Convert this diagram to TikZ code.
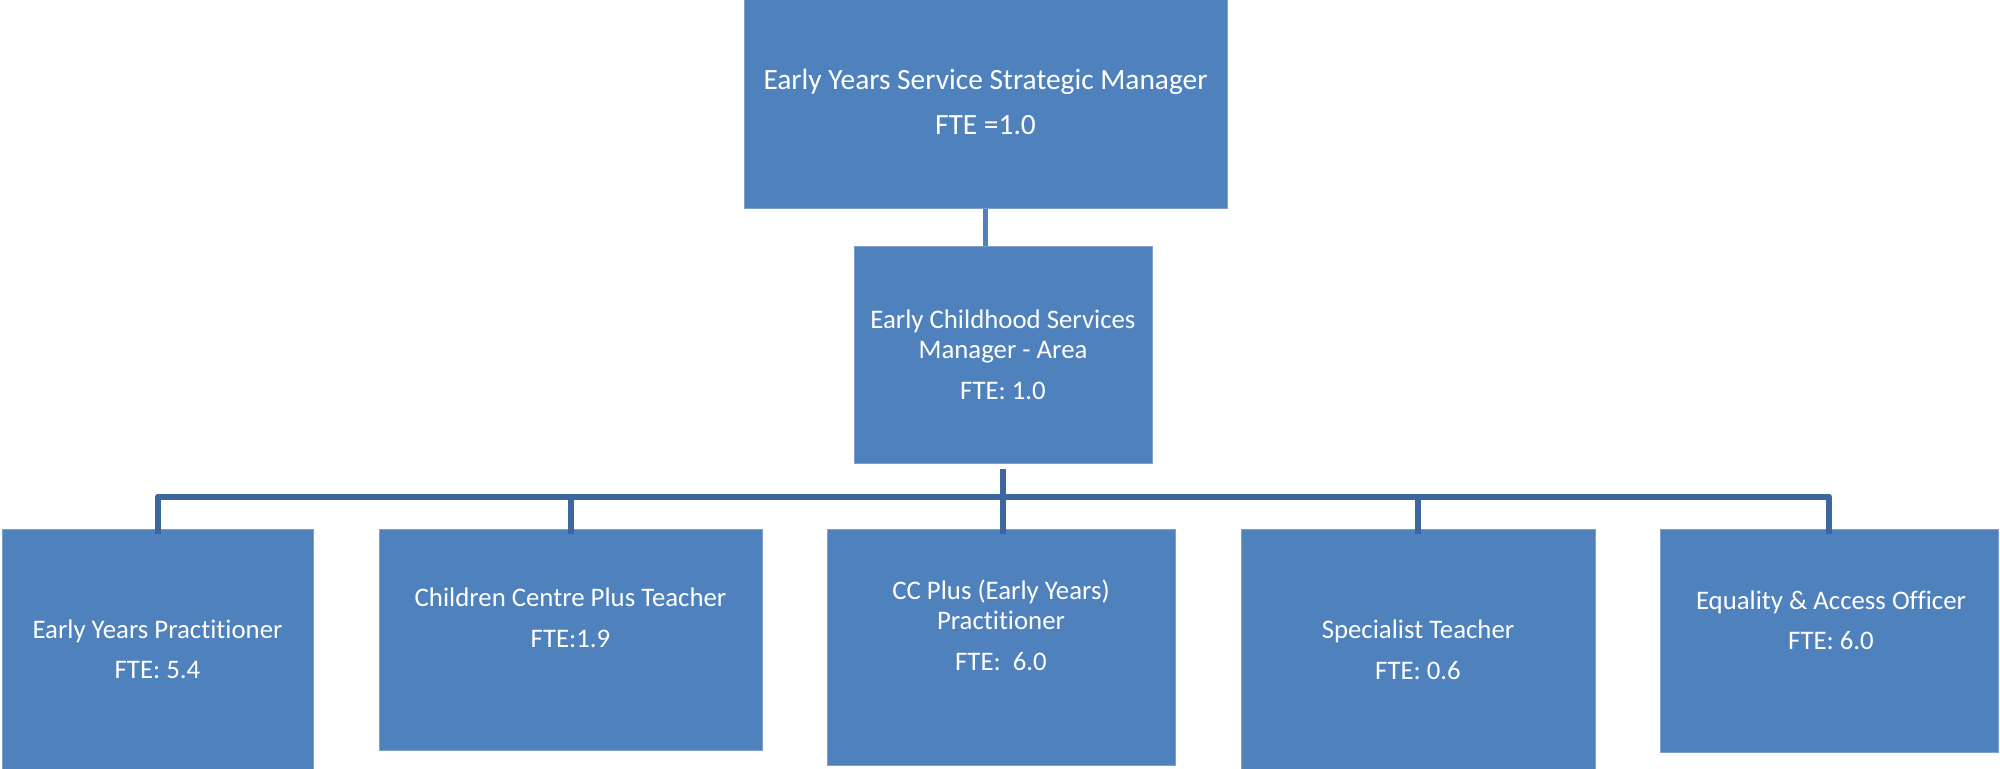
\documentclass[tikz,border=0pt]{standalone}
\usepackage{fontspec}
\setmainfont{Carlito}[Ligatures=NoCommon]
\definecolor{boxfill}{RGB}{79,129,189}
\definecolor{boxedge}{RGB}{125,160,208}
\definecolor{busline}{RGB}{60,103,158}
\definecolor{linkline}{RGB}{79,129,189}
\begin{document}
\begin{tikzpicture}[x=0.5pt,y=-0.5pt,
  orgbox/.style={rectangle, fill=boxfill, draw=boxedge, line width=0.5pt, inner sep=0pt},
  txt/.style={text=white, align=center, inner sep=0pt, anchor=base, font=\fontsize{13.4}{15}\selectfont},
  bus/.style={draw=busline, line width=3pt, line join=round},
  link/.style={draw=linkline, line width=2.25pt}]
\useasboundingbox (0,0) rectangle (2000,769);
% boxes
\node[orgbox, minimum width=241.5pt, minimum height=104.5pt] (top) at (985.5,104.5) {};
\node[orgbox, minimum width=149pt, minimum height=108.5pt] (mid) at (1003,355.5) {};
\node[orgbox, minimum width=155.5pt, minimum height=120pt] (b1) at (157.5,649) {};
\node[orgbox, minimum width=191.5pt, minimum height=110.5pt] (b2) at (570.5,639.5) {};
\node[orgbox, minimum width=174pt, minimum height=118pt] (b3) at (1001,647) {};
\node[orgbox, minimum width=177pt, minimum height=120pt] (b4) at (1418,649) {};
\node[orgbox, minimum width=169pt, minimum height=111.5pt] (b5) at (1829,640.5) {};
% texts (anchor = baseline of last line)
\node[txt, font=\fontsize{14.7}{16}\selectfont] (ttop) at (985.5,135) {Early Years Service Strategic Manager\\[6.5pt]FTE =1.0};
\node[txt] (tmid) at (1003,400) {Early Childhood Services\\Manager - Area\\[5.5pt]FTE: 1.0};
\node[txt] (tb1) at (157.5,678) {Early Years Practitioner\\[5pt]FTE: 5.4};
\node[txt] (tb2) at (570.5,647) {Children Centre Plus Teacher\\[5.5pt]FTE:1.9};
\node[txt] (tb3) at (1001,670) {CC Plus (Early Years)\\Practitioner\\[5.5pt]FTE:\ \ 6.0};
\node[txt] (tb4) at (1418,679) {Specialist Teacher\\[5.5pt]FTE: 0.6};
\node[txt] (tb5) at (1831,649) {Equality \& Access Officer\\[5pt]FTE: 6.0};
% connector coordinates
\coordinate (busy) at (0,496.5);
\coordinate (d1) at ([yshift=-2.5pt]b1.north);
\coordinate (d2) at ([yshift=-2.5pt]b2.north);
\coordinate (d3) at ([yshift=-2.5pt]b3.north);
\coordinate (d4) at ([yshift=-2.5pt]b4.north);
\coordinate (d5) at ([yshift=-2.5pt]b5.north);
\coordinate (m0) at ([yshift=-2.5pt]mid.south);
% connectors
\draw[link] (top.south) -- (top.south |- mid.north);
\draw[bus] (d1) -- (d1 |- busy) -- (d5 |- busy) -- (d5);
\draw[bus] (d2) -- (d2 |- busy);
\draw[bus] (d4) -- (d4 |- busy);
\draw[bus] (m0) -- (m0 |- d3);
\end{tikzpicture}
\end{document}
